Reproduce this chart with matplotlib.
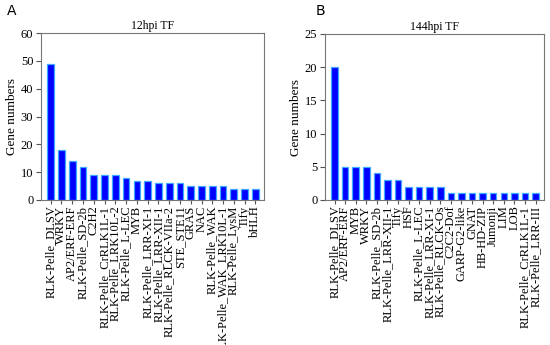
import matplotlib
matplotlib.use('Agg')
import matplotlib.pyplot as plt

# data
tf_12 = ['RLK-Pelle_DLSV', 'WRKY', 'AP2/ERF-ERF', 'RLK-Pelle_SD-2b', 'C2H2',
         'RLK-Pelle_CrRLK1L-1', 'RLK-Pelle_LRK10L-2', 'RLK-Pelle_L-LEC', 'MYB',
         'RLK-Pelle_LRR-XI-1', 'RLK-Pelle_LRR-XII-1', 'RLK-Pelle_RLCK-VIIa-2',
         'STE_STE11', 'GRAS', 'NAC', 'RLK-Pelle_WAK', 'RLK-Pelle_WAK_LRK10L-1',
         'RLK-Pelle_LysM', 'Tify', 'bHLH']
n_12 = [49, 18, 14, 12, 9, 9, 9, 8, 7, 7, 6, 6, 6, 5, 5, 5, 5, 4, 4, 4]

tf_144 = ['RLK-Pelle_DLSV', 'AP2/ERF-ERF', 'MYB', 'WRKY', 'RLK-Pelle_SD-2b',
          'RLK-Pelle_LRR-XII-1', 'Tify', 'HSF', 'RLK-Pelle_L-LEC',
          'RLK-Pelle_LRR-XI-1', 'RLK-Pelle_RLCK-Os', 'C2C2-Dof', 'GARP-G2-like',
          'GNAT', 'HB-HD-ZIP', 'Jumonji', 'LIM', 'LOB', 'RLK-Pelle_CrRLK1L-1',
          'RLK-Pelle_LRR-III']
n_144 = [20, 5, 5, 5, 4, 3, 3, 2, 2, 2, 2, 1, 1, 1, 1, 1, 1, 1, 1, 1]

plt.rcParams['font.family'] = ['Liberation Serif', 'DejaVu Serif']

fig = plt.figure(figsize=(5.5, 3.45), dpi=100)
W, H = 550, 345
axA = fig.add_axes([41 / W, 1 - 200 / H, (264 - 41) / W, (200 - 33) / H])
axB = fig.add_axes([325 / W, 1 - 200 / H, (544 - 325) / W, (200 - 34) / H])


def draw(ax, names, vals, title, ymax, step):
    x = range(len(names))
    ax.bar(x, vals, width=0.62, color='#0000ff', edgecolor='#3fa9ff', linewidth=0.9)
    ax.set_xlim(-0.9, len(names) - 0.2)
    ax.set_ylim(0, ymax)
    ax.set_yticks(range(0, ymax + 1, step))
    ax.set_xticks(list(x))
    ax.set_xticklabels(names, rotation=90, fontsize=9)
    ax.tick_params(axis='y', labelsize=9, length=3.5, color='#555555', pad=2)
    ax.tick_params(axis='x', length=3, color='#555555', pad=1)
    ax.set_ylabel('Gene numbers', fontsize=9.5, labelpad=2)
    ax.set_title(title, fontsize=8.5, pad=3)
    for s in ax.spines.values():
        s.set_color('#777777')
        s.set_linewidth(0.8)


draw(axA, tf_12, n_12, '12hpi TF', 60, 10)
draw(axB, tf_144, n_144, '144hpi TF', 25, 5)

fig.text(7 / W, 1 - 11 / H, 'A', family='DejaVu Sans', fontsize=10, va='center')
fig.text(316 / W, 1 - 11 / H, 'B', family='DejaVu Sans', fontsize=10, va='center')

fig.savefig('out.png', dpi=100)
